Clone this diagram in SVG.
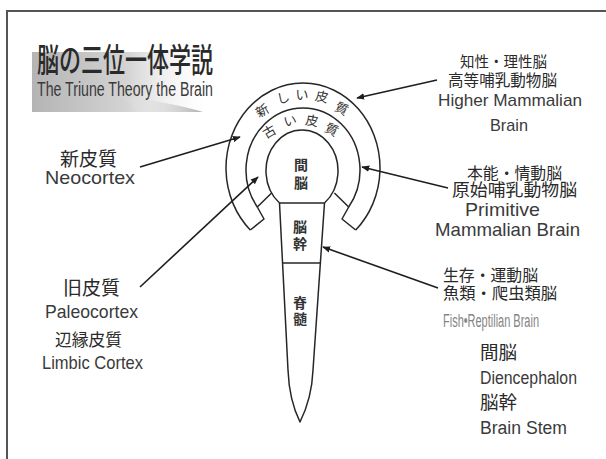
<svg xmlns="http://www.w3.org/2000/svg" width="606" height="459" viewBox="0 0 606 459">
  <style>
    .jp { font-family: "Noto Sans CJK JP", "Noto Sans CJK SC", sans-serif; fill: #2a2a2a; }
    .en { font-family: "Liberation Sans", Arial, sans-serif; fill: #3a3a3a; }
    .ring { font-family: "Noto Sans CJK JP", sans-serif; font-size: 13px; fill: #333; text-anchor: middle; dominant-baseline: central; }
    .core { font-family: "Noto Sans CJK JP", sans-serif; font-size: 14px; font-weight: 700; fill: #333; text-anchor: middle; dominant-baseline: central; }
    .outline { fill: none; stroke: #262626; stroke-width: 1.5; stroke-linejoin: round; }
    .link { fill: none; stroke: #1e1e1e; stroke-width: 1.6; marker-end: url(#tip); }
  </style>
  <defs>
    <marker id="tip" viewBox="0 0 10 10" refX="9" refY="5" markerWidth="8" markerHeight="8" markerUnits="userSpaceOnUse" orient="auto">
      <path d="M0,1 L10,5 L0,9 Z" fill="#1e1e1e"/>
    </marker>
    <linearGradient id="shade" x1="0" y1="0" x2="1" y2="0">
      <stop offset="0" stop-color="#b4b4b4"/>
      <stop offset="0.55" stop-color="#d4d4d4"/>
      <stop offset="1" stop-color="#f4f4f4" stop-opacity="0"/>
    </linearGradient>
    <linearGradient id="streak" x1="0" y1="0" x2="1" y2="0">
      <stop offset="0" stop-color="#ffffff" stop-opacity="0"/>
      <stop offset="1" stop-color="#8c8c8c"/>
    </linearGradient>
  </defs>

  <rect width="606" height="459" fill="#ffffff"/>

  <!-- page frame -->
  <path d="M7,459 V11 H606" fill="none" stroke="#555" stroke-width="2"/>

  <!-- title block -->
  <g id="title">
    <rect x="32" y="52" width="175" height="60" fill="url(#shade)"/>
    <path d="M118,96 Q170,102 203,112 L140,112 Q128,104 118,96 Z" fill="url(#streak)" opacity="0.7"/>
    <text class="jp" x="37" y="72" font-size="33" font-weight="500" textLength="176" lengthAdjust="spacingAndGlyphs" fill="#222">脳の三位一体学説</text>
    <text class="en" x="37" y="96" font-size="20" textLength="176" lengthAdjust="spacingAndGlyphs" fill="#333">The Triune Theory the Brain</text>
  </g>

  <!-- brain: two cortex bands around the diencephalon bulb and the stem -->
  <g id="brain">
    <!-- diencephalon bulb + brain stem / spinal cord -->
    <path class="outline" d="M279.5,203 A36,41 0 1 1 324.5,203 L313,370 C312,395 306,410 300,422 C294,410 289,395 288,370 Z"/>
    <line class="outline" x1="279.5" y1="203" x2="324.5" y2="203"/>
    <line class="outline" x1="282.5" y1="263" x2="320.5" y2="263"/>
    <!-- old cortex outer edge -->
    <path class="outline" d="M257.3,207 A57,62 0 1 1 348.7,207"/>
    <!-- old cortex end caps -->
    <path class="outline" d="M257.3,207 L271.6,193 M348.7,207 L334.4,193"/>
    <!-- new cortex outer edge -->
    <path class="outline" d="M250.3,230 A77,85 0 1 1 355.7,230"/>
    <!-- new cortex end tabs -->
    <path class="outline" d="M257.3,207 L264,219 L250.3,230 M348.7,207 L342,219 L355.7,230"/>

    <g id="ring-new">
      <text class="ring" transform="translate(262,110) rotate(-30)">新</text>
      <text class="ring" transform="translate(283,97) rotate(-14)">し</text>
      <text class="ring" transform="translate(302,93)">い</text>
      <text class="ring" transform="translate(322,96) rotate(12)">皮</text>
      <text class="ring" transform="translate(342,108) rotate(26)">質</text>
    </g>
    <g id="ring-old">
      <text class="ring" transform="translate(269,131) rotate(-30)">古</text>
      <text class="ring" transform="translate(290,120) rotate(-12)">い</text>
      <text class="ring" transform="translate(312,120) rotate(10)">皮</text>
      <text class="ring" transform="translate(332,129) rotate(26)">質</text>
    </g>
    <g id="core-labels">
      <text class="core" x="301" y="164">間</text>
      <text class="core" x="301" y="182">脳</text>
      <text class="core" x="300" y="226">脳</text>
      <text class="core" x="300" y="243">幹</text>
      <text class="core" x="300" y="302">脊</text>
      <text class="core" x="300" y="318">髄</text>
    </g>
  </g>

  <!-- connectors -->
  <g id="connectors">
    <line class="link" x1="140" y1="167" x2="240" y2="137"/>
    <line class="link" x1="140" y1="287" x2="258" y2="177"/>
    <line class="link" x1="437" y1="80" x2="357" y2="98"/>
    <line class="link" x1="448" y1="188" x2="362" y2="167"/>
    <line class="link" x1="438" y1="288" x2="323" y2="247"/>
  </g>

  <!-- left labels -->
  <g id="neocortex">
    <text class="jp" x="60" y="166" font-size="19" textLength="57" lengthAdjust="spacingAndGlyphs">新皮質</text>
    <text class="en" x="45" y="184" font-size="19" textLength="90" lengthAdjust="spacingAndGlyphs">Neocortex</text>
  </g>
  <g id="paleocortex">
    <text class="jp" x="63" y="295" font-size="19" textLength="57" lengthAdjust="spacingAndGlyphs">旧皮質</text>
    <text class="en" x="45" y="318" font-size="19" textLength="93" lengthAdjust="spacingAndGlyphs">Paleocortex</text>
    <text class="jp" x="55" y="346" font-size="17" textLength="67" lengthAdjust="spacingAndGlyphs">辺縁皮質</text>
    <text class="en" x="42" y="369" font-size="19" textLength="101" lengthAdjust="spacingAndGlyphs">Limbic Cortex</text>
  </g>

  <!-- right labels -->
  <g id="higher-mammalian">
    <text class="jp" x="460" y="67" font-size="15" textLength="87" lengthAdjust="spacingAndGlyphs">知性・理性脳</text>
    <text class="jp" x="448" y="86" font-size="16" textLength="109" lengthAdjust="spacingAndGlyphs">高等哺乳動物脳</text>
    <text class="en" x="438" y="106" font-size="17" textLength="144" lengthAdjust="spacingAndGlyphs">Higher Mammalian</text>
    <text class="en" x="490" y="131" font-size="17" textLength="38" lengthAdjust="spacingAndGlyphs">Brain</text>
  </g>
  <g id="primitive-mammalian">
    <text class="jp" x="467" y="179" font-size="16" textLength="95" lengthAdjust="spacingAndGlyphs">本能・情動脳</text>
    <text class="jp" x="452" y="196" font-size="17" textLength="125" lengthAdjust="spacingAndGlyphs">原始哺乳動物脳</text>
    <text class="en" x="465" y="216" font-size="19" textLength="75" lengthAdjust="spacingAndGlyphs">Primitive</text>
    <text class="en" x="435" y="236" font-size="19" textLength="145" lengthAdjust="spacingAndGlyphs">Mammalian Brain</text>
  </g>
  <g id="reptilian">
    <text class="jp" x="443" y="281" font-size="16" textLength="95" lengthAdjust="spacingAndGlyphs">生存・運動脳</text>
    <text class="jp" x="443" y="299" font-size="16" textLength="114" lengthAdjust="spacingAndGlyphs">魚類・爬虫類脳</text>
    <text class="en" x="443" y="327" font-size="18" textLength="96" lengthAdjust="spacingAndGlyphs" style="fill:#858585">Fish•Reptilian Brain</text>
  </g>
  <g id="legend">
    <text class="jp" x="480" y="359" font-size="18" textLength="37" lengthAdjust="spacingAndGlyphs">間脳</text>
    <text class="en" x="480" y="384" font-size="18" textLength="97" lengthAdjust="spacingAndGlyphs">Diencephalon</text>
    <text class="jp" x="480" y="409" font-size="18" textLength="37" lengthAdjust="spacingAndGlyphs">脳幹</text>
    <text class="en" x="480" y="434" font-size="18" textLength="87" lengthAdjust="spacingAndGlyphs">Brain Stem</text>
  </g>
</svg>
